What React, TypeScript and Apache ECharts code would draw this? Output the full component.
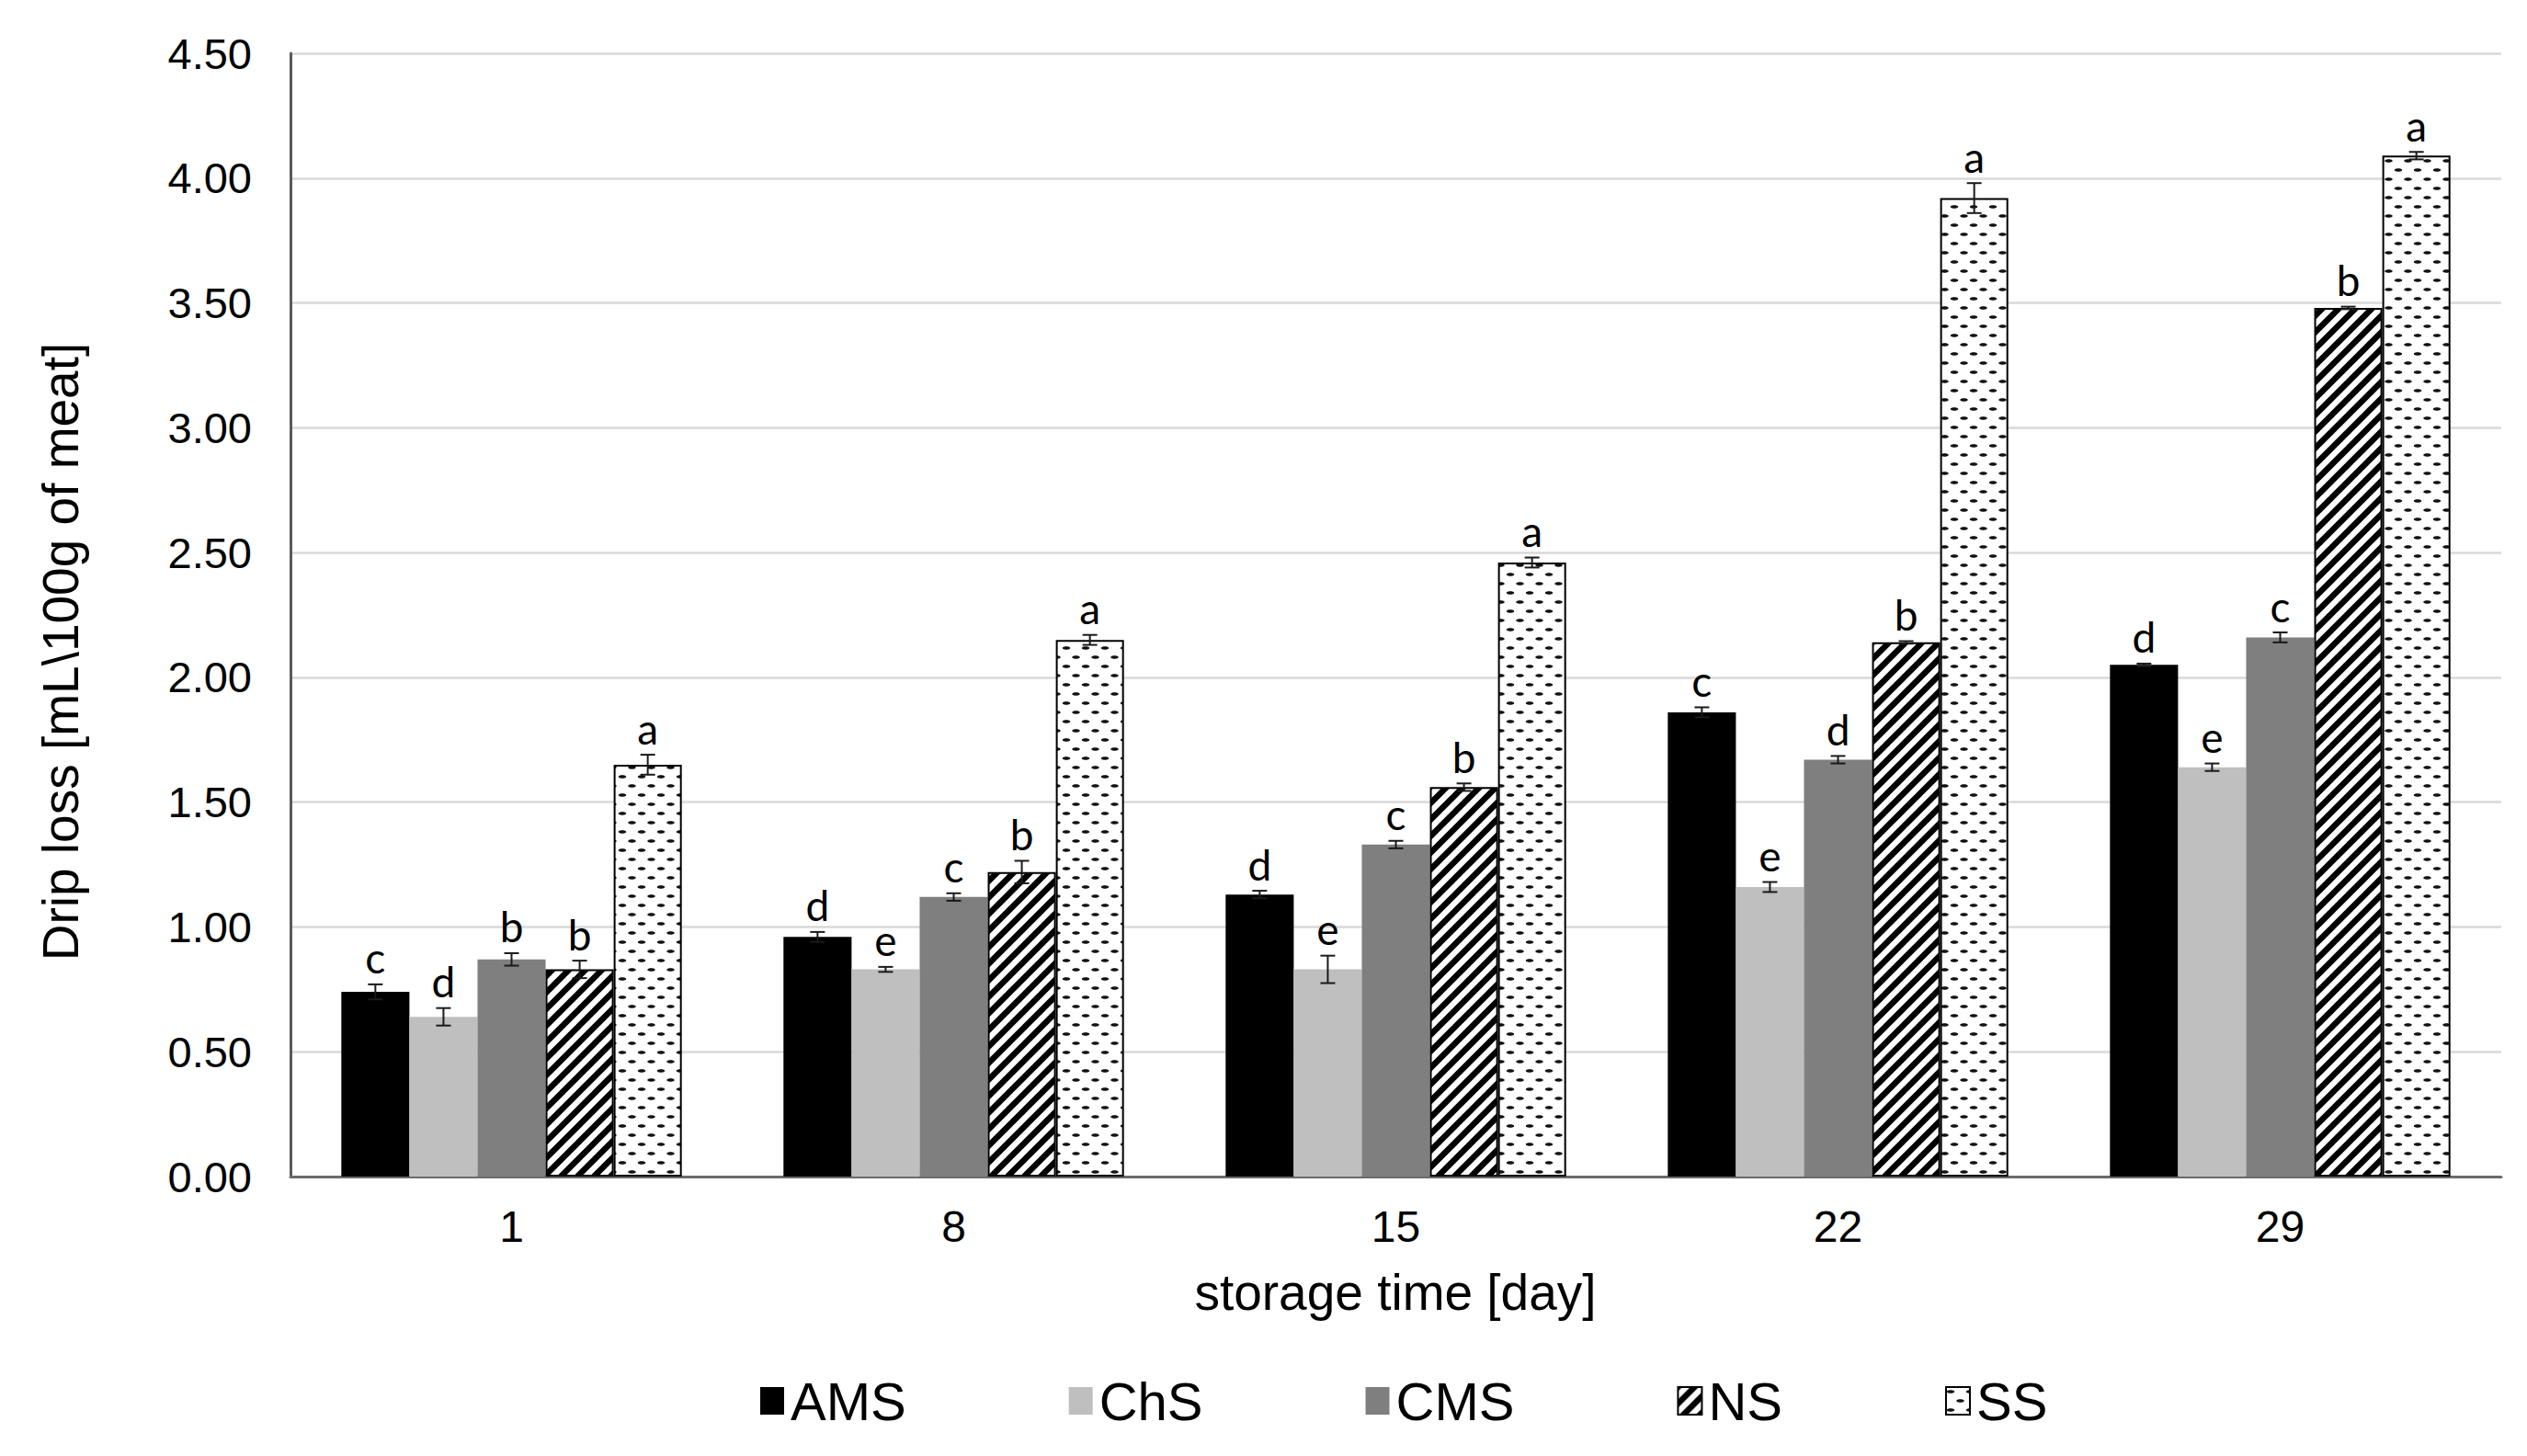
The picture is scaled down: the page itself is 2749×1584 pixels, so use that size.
import React, { useEffect, useRef } from "react";
import * as echarts from "echarts";

const categories = ["1", "8", "15", "22", "29"];
const seriesNames = ["AMS", "ChS", "CMS", "NS", "SS"];

const AMS = [0.74, 0.96, 1.13, 1.86, 2.05];
const ChS = [0.64, 0.83, 0.83, 1.16, 1.64];
const CMS = [0.87, 1.12, 1.33, 1.67, 2.16];
const NS = [0.83, 1.22, 1.56, 2.14, 3.48];
const SS = [1.65, 2.15, 2.46, 3.92, 4.09];

const AMS_err = [0.03, 0.02, 0.015, 0.02, 0.005];
const ChS_err = [0.035, 0.01, 0.055, 0.02, 0.015];
const CMS_err = [0.025, 0.015, 0.015, 0.015, 0.02];
const NS_err = [0.035, 0.045, 0.015, 0.005, 0.005];
const SS_err = [0.04, 0.02, 0.02, 0.06, 0.015];

const AMS_letters = ["c", "d", "d", "c", "d"];
const ChS_letters = ["d", "e", "e", "e", "e"];
const CMS_letters = ["b", "c", "c", "d", "c"];
const NS_letters = ["b", "b", "b", "b", "b"];
const SS_letters = ["a", "a", "a", "a", "a"];

const Y_MIN = 0;
const Y_MAX = 4.5;
const Y_INTERVAL = 0.5;

const xTitle = "storage time [day]";
const yTitle = "Drip loss [mL\\100g of meat]";

const BAR_CAT_GAP = 0.23;

function stripeTile() {
  const s = 18;
  const k = 4;
  const c = document.createElement("canvas");
  c.width = s * k;
  c.height = s * k;
  const ctx = c.getContext("2d")!;
  ctx.scale(k, k);
  ctx.fillStyle = "#ffffff";
  ctx.fillRect(0, 0, s, s);
  ctx.strokeStyle = "#000000";
  ctx.lineWidth = 6.5;
  for (const o of [-s, 0, s]) {
    ctx.beginPath();
    ctx.moveTo(o - 2, s + 2);
    ctx.lineTo(o + s + 2, -2);
    ctx.stroke();
  }
  return { image: c, repeat: "repeat", imageWidth: s, imageHeight: s };
}

function dashTile() {
  const w = 21;
  const h = 20;
  const k = 4;
  const c = document.createElement("canvas");
  c.width = w * k;
  c.height = h * k;
  const ctx = c.getContext("2d")!;
  ctx.scale(k, k);
  ctx.fillStyle = "#ffffff";
  ctx.fillRect(0, 0, w, h);
  ctx.fillStyle = "#111111";
  const dashes = [
    [5, 5],
    [15.5, 15],
  ];
  for (const [cx, cy] of dashes) {
    ctx.beginPath();
    ctx.ellipse(cx, cy, 4.2, 1.8, 0, 0, Math.PI * 2);
    ctx.fill();
  }
  return { image: c, repeat: "repeat", imageWidth: w, imageHeight: h };
}

export default function App() {
  const ref = useRef<HTMLDivElement>(null);

  useEffect(() => {
    if (!ref.current) return;
    const chart = echarts.init(ref.current, undefined, { renderer: "svg" });

    const values = [AMS, ChS, CMS, NS, SS];
    const errs = [AMS_err, ChS_err, CMS_err, NS_err, SS_err];
    const letters = [AMS_letters, ChS_letters, CMS_letters, NS_letters, SS_letters];

    const styles: any[] = [
      { color: "#000000", borderWidth: 0 },
      { color: "#bfbfbf", borderWidth: 0 },
      { color: "#7f7f7f", borderWidth: 0 },
      { color: stripeTile(), borderColor: "#000000", borderWidth: 2 },
      { color: dashTile(), borderColor: "#000000", borderWidth: 2 },
    ];

    const errRows: number[][] = [];
    const errLetters: string[] = [];
    for (let si = 0; si < values.length; si++) {
      for (let ci = 0; ci < categories.length; ci++) {
        errRows.push([ci, si, values[si][ci], errs[si][ci]]);
        errLetters.push(letters[si][ci]);
      }
    }

    const barSeries = seriesNames.map((name, i) => ({
      name,
      type: "bar",
      data: values[i],
      barGap: "0%",
      barCategoryGap: `${BAR_CAT_GAP * 100}%`,
      itemStyle: styles[i],
      emphasis: { disabled: true },
      z: 2,
    }));

    const errSeries = {
      type: "custom",
      z: 10,
      silent: true,
      encode: { x: 0, y: 2 },
      data: errRows,
      renderItem: (params: any, api: any) => {
        const ci = api.value(0);
        const si = api.value(1);
        const v = api.value(2);
        const e = api.value(3);
        const band = api.size([1, 0])[0];
        const bw = (band * (1 - BAR_CAT_GAP)) / seriesNames.length;
        const c = api.coord([ci, v]);
        const x = c[0] + (si - (seriesNames.length - 1) / 2) * bw;
        const yTop = api.coord([ci, v + e])[1];
        const yBot = api.coord([ci, v - e])[1];
        const cap = 8;
        const ls = { stroke: "#1a1a1a", lineWidth: 2 };
        return {
          type: "group",
          children: [
            { type: "line", shape: { x1: x, y1: yTop, x2: x, y2: yBot }, style: ls },
            { type: "line", shape: { x1: x - cap, y1: yTop, x2: x + cap, y2: yTop }, style: ls },
            { type: "line", shape: { x1: x - cap, y1: yBot, x2: x + cap, y2: yBot }, style: ls },
            {
              type: "text",
              x,
              y: yTop - 6,
              style: {
                text: errLetters[params.dataIndex],
                fontFamily: "Lato",
                fontSize: 46,
                fill: "#000000",
                align: "center",
                verticalAlign: "bottom",
              },
            },
          ],
        };
      },
    };

    chart.setOption({
      animation: false,
      backgroundColor: "#ffffff",
      grid: { left: 316, right: 28, top: 58, bottom: 304, containLabel: false },
      legend: {
        data: seriesNames,
        top: 1490,
        left: 822,
        icon: "rect",
        itemWidth: 26,
        itemHeight: 30,
        itemGap: 177,
        selectedMode: false,
        textStyle: {
          fontFamily: "Liberation Sans",
          fontSize: 58,
          color: "#000000",
          padding: [0, 0, 0, 2],
        },
      },
      xAxis: {
        type: "category",
        data: categories,
        axisLine: { show: true, lineStyle: { color: "#6b6b6b", width: 3 } },
        axisTick: { show: false },
        axisLabel: {
          margin: 30,
          fontFamily: "Liberation Sans",
          fontSize: 48,
          color: "#000000",
        },
        splitLine: { show: false },
      },
      yAxis: {
        type: "value",
        min: Y_MIN,
        max: Y_MAX,
        interval: Y_INTERVAL,
        axisLine: { show: true, lineStyle: { color: "#5a5a5a", width: 3 } },
        axisTick: { show: false },
        axisLabel: {
          margin: 42,
          fontFamily: "Liberation Sans",
          fontSize: 47,
          color: "#000000",
          formatter: (v: number) => v.toFixed(2),
        },
        splitLine: { show: true, lineStyle: { color: "#d9d9d9", width: 2.5 } },
      },
      graphic: [
        {
          type: "text",
          x: 1518,
          y: 1406,
          style: {
            text: xTitle,
            fontFamily: "Liberation Sans",
            fontSize: 55,
            fill: "#000000",
            align: "center",
            verticalAlign: "middle",
          },
        },
        {
          type: "text",
          x: 66,
          y: 709,
          rotation: Math.PI / 2,
          style: {
            text: yTitle,
            fontFamily: "Liberation Sans",
            fontSize: 55,
            fill: "#000000",
            align: "center",
            verticalAlign: "middle",
          },
        },
      ],
      series: [...barSeries, errSeries],
    });

    return () => chart.dispose();
  }, []);

  return (
    <div
      ref={ref}
      style={{ position: "fixed", left: 0, top: 0, width: "100vw", height: "100vh" }}
    />
  );
}
